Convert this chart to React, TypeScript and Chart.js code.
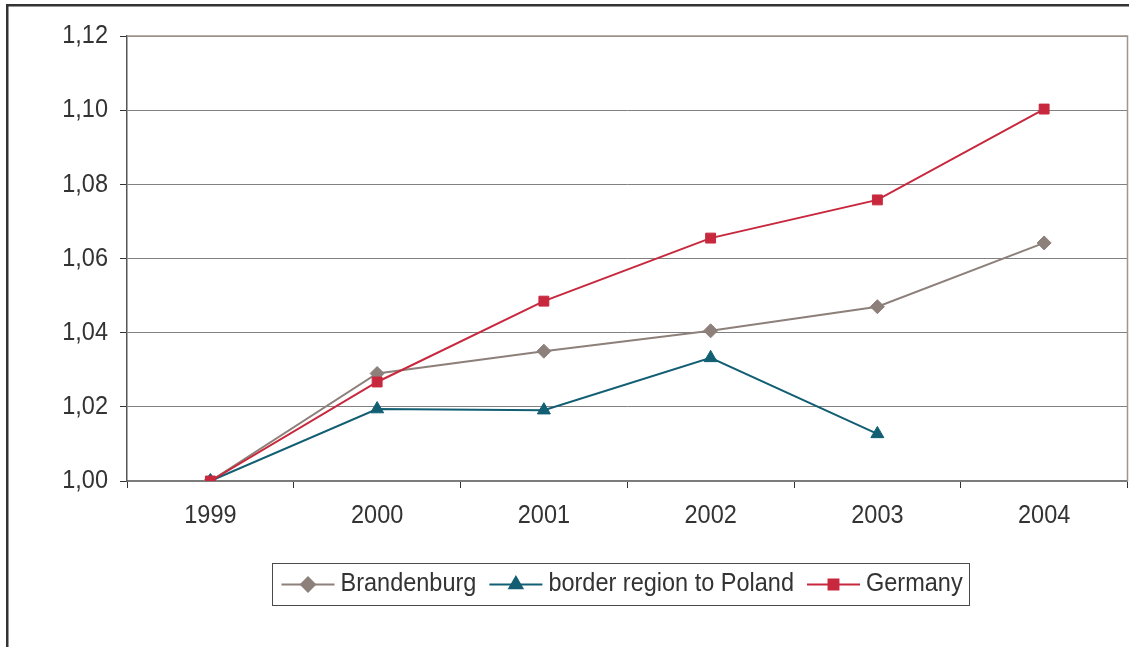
import React, { useEffect, useRef } from "react";
import { Chart, registerables } from "chart.js";
import { drawPoint } from "chart.js/helpers";

Chart.register(...registerables);

const years = ["1999", "2000", "2001", "2002", "2003", "2004"];
const brandenburg = [1.0, 1.029, 1.035, 1.0405, 1.047, 1.0642];
const borderRegion = [1.0, 1.0194, 1.0191, 1.0332, 1.0127, null];
const germany = [1.0, 1.0267, 1.0485, 1.0655, 1.0758, 1.1003];
const seriesNames = ["Brandenburg", "border region to Poland", "Germany"];

const FONT_FAMILY = '"Liberation Sans", Arial, Helvetica, sans-serif';
const FONT_SIZE = 23.5;
const TEXT_STRETCH_Y = 1.12; // glyphs are drawn slightly taller than wide
const TEXT_COLOR = "#333333";

const PAGE_W = 1131;
const PAGE_H = 647;
// the canvas runs a few pixels past the page edge so the plot can reach x = 1127
const CANVAS_W = 1136;

const COLORS = {
  brandenburg: "#8d807b",
  border: "#125e73",
  germany: "#c8283d",
};

function drawText(ctx: CanvasRenderingContext2D, text: string, x: number, y: number, align: CanvasTextAlign) {
  ctx.save();
  ctx.translate(x, y);
  ctx.scale(1, TEXT_STRETCH_Y);
  ctx.font = `${FONT_SIZE}px ${FONT_FAMILY}`;
  ctx.fillStyle = TEXT_COLOR;
  ctx.textAlign = align;
  ctx.textBaseline = "middle";
  ctx.fillText(text, 0, 0);
  ctx.restore();
}

// Outer frame (left and top edges), plot border (top and right), axis labels and the boxed legend
const framePlugin = {
  id: "frameAndLegend",
  beforeDraw(chart: any) {
    const ctx = chart.ctx;
    ctx.save();
    ctx.fillStyle = "#333333";
    ctx.fillRect(6, 4, 2.5, chart.height - 4);
    ctx.fillRect(6, 4, 1123, 2.5);
    ctx.restore();
  },
  afterDraw(chart: any) {
    const ctx = chart.ctx;
    const area = chart.chartArea;
    ctx.save();
    // plot area border on top and right
    ctx.strokeStyle = "#a0958f";
    ctx.lineWidth = 1.5;
    ctx.beginPath();
    ctx.moveTo(area.left, area.top);
    ctx.lineTo(area.right, area.top);
    ctx.lineTo(area.right, area.bottom);
    ctx.stroke();
    ctx.restore();

    // axis tick labels
    const xs = chart.scales.x;
    xs.ticks.forEach((t: any, i: number) => {
      drawText(ctx, String(t.label), xs.getPixelForTick(i), area.bottom + 34.5, "center");
    });
    const ys = chart.scales.y;
    ys.ticks.forEach((t: any, i: number) => {
      drawText(ctx, String(t.label), area.left - 19, ys.getPixelForTick(i), "right");
    });

    // legend
    ctx.save();
    ctx.font = `${FONT_SIZE}px ${FONT_FAMILY}`;
    const lineLen = 53;
    const gapText = 6;
    const gapItem = 13;
    const padL = 9;
    const padR = 7;
    const datasets = chart.data.datasets;
    const widths = datasets.map((ds: any) => ctx.measureText(ds.label).width);
    let total = padL + padR;
    widths.forEach((w: number, i: number) => {
      total += lineLen + gapText + w + (i > 0 ? gapItem : 0);
    });
    const centerX = 621;
    const boxTop = 563;
    const boxH = 42;
    const left = Math.round(centerX - total / 2) + 0.5;
    ctx.strokeStyle = "#4a4a4a";
    ctx.lineWidth = 1;
    ctx.strokeRect(left, boxTop + 0.5, Math.round(total), boxH);
    const cy = boxTop + boxH / 2 + 0.5;
    let x = left + padL;
    datasets.forEach((ds: any, i: number) => {
      if (i > 0) x += gapItem;
      ctx.strokeStyle = ds.borderColor;
      ctx.lineWidth = 2;
      ctx.beginPath();
      ctx.moveTo(x, cy);
      ctx.lineTo(x + lineLen, cy);
      ctx.stroke();
      ctx.fillStyle = ds.pointBackgroundColor;
      ctx.strokeStyle = ds.pointBorderColor;
      drawPoint(
        ctx,
        { pointStyle: ds.pointStyle, radius: ds.pointRadius, rotation: 0, borderWidth: 1 },
        x + lineLen / 2,
        cy
      );
      x += lineLen + gapText;
      drawText(ctx, ds.label, x, cy - 0.5, "left");
      x += widths[i];
    });
    ctx.restore();
  },
};

function makeSeries(label: string, data: (number | null)[], color: string, style: string, radius: number, order: number) {
  return {
    label,
    data,
    borderColor: color,
    backgroundColor: color,
    pointBackgroundColor: color,
    pointBorderColor: color,
    pointBorderWidth: 1,
    pointStyle: style,
    pointRadius: radius,
    borderWidth: 2,
    tension: 0,
    spanGaps: false,
    order,
  };
}

export default function App() {
  const canvasRef = useRef<HTMLCanvasElement | null>(null);

  useEffect(() => {
    if (!canvasRef.current) return;
    const chart = new Chart(canvasRef.current, {
      type: "line",
      data: {
        labels: years,
        datasets: [
          makeSeries(seriesNames[0], brandenburg, COLORS.brandenburg, "rectRot", 7, 2),
          makeSeries(seriesNames[1], borderRegion, COLORS.border, "triangle", 7.5, 1),
          makeSeries(seriesNames[2], germany, COLORS.germany, "rect", 7, 0),
        ],
      },
      options: {
        responsive: false,
        animation: false,
        layout: { padding: { top: 36, right: 0, left: 0, bottom: 0 } },
        plugins: {
          legend: { display: false },
          tooltip: { enabled: false },
        },
        scales: {
          x: {
            offset: true,
            grid: {
              offset: true,
              drawOnChartArea: false,
              drawTicks: true,
              tickLength: 7,
              tickColor: "#333333",
              tickWidth: 1,
            },
            border: { color: "#7a7a7a", width: 1.5 },
            ticks: {
              display: false,
              font: { family: FONT_FAMILY, size: FONT_SIZE },
              maxRotation: 0,
            },
            afterFit: (scale: any) => {
              scale.height = 166;
            },
          },
          y: {
            min: 1.0,
            max: 1.12,
            grid: {
              color: "#808080",
              lineWidth: 1,
              tickLength: 7,
              tickColor: "#333333",
            },
            border: { color: "#555555", width: 1.5 },
            ticks: {
              display: false,
              stepSize: 0.02,
              font: { family: FONT_FAMILY, size: FONT_SIZE },
              callback: (v: any) => Number(v).toFixed(2).replace(".", ","),
            },
            afterFit: (scale: any) => {
              scale.width = 127;
            },
          },
        },
      },
      plugins: [framePlugin],
    });
    return () => chart.destroy();
  }, []);

  return (
    <div
      style={{
        position: "absolute",
        left: 0,
        top: 0,
        width: PAGE_W,
        height: PAGE_H,
        overflow: "hidden",
        background: "#ffffff",
      }}
    >
      <canvas ref={canvasRef} width={CANVAS_W} height={PAGE_H} style={{ display: "block" }} />
    </div>
  );
}
